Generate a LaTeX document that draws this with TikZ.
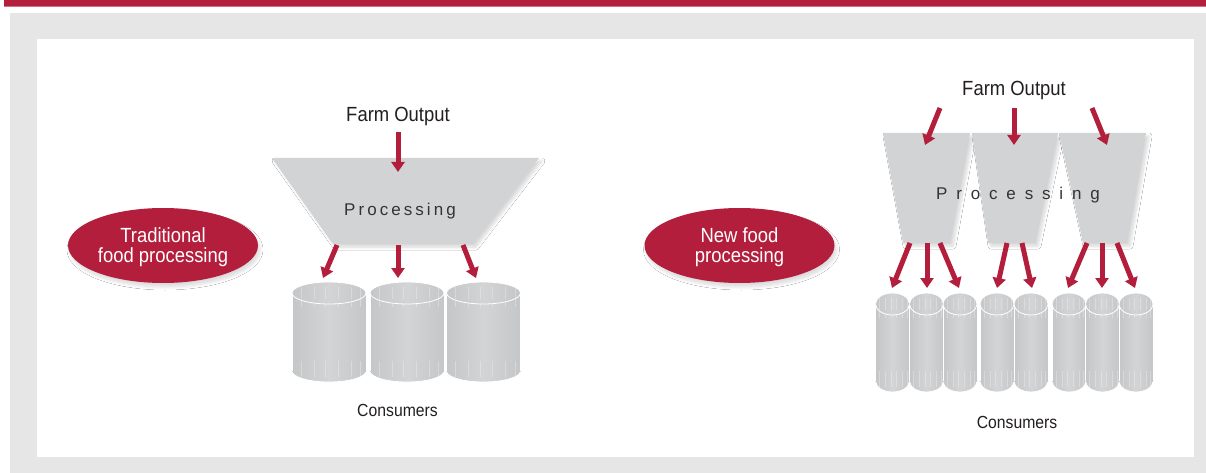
\documentclass[tikz,border=0pt]{standalone}
\usepackage{fontspec}
\setmainfont{Liberation Sans}[FakeStretch=0.9]
\newfontfamily\procfont{Liberation Sans}[LetterSpace=18]
\newfontfamily\procwide{Liberation Sans}[LetterSpace=52]
\usetikzlibrary{arrows.meta,shadows.blur,shapes.geometric}
\definecolor{crimson}{HTML}{B31E3C}
\definecolor{pinkline}{HTML}{D86C80}
\definecolor{panelgrey}{HTML}{E6E6E6}
\definecolor{trapgrey}{HTML}{D2D3D5}
\definecolor{cylA}{HTML}{C5C6C8}
\definecolor{cylB}{HTML}{D3D4D6}
\definecolor{txtdark}{HTML}{231F20}
\tikzset{
  flow/.style={draw=crimson, line width=5pt, -{Triangle[length=10pt,width=13pt]}},
  trap/.style={fill=trapgrey, blur shadow={shadow xshift=3pt, shadow yshift=-3pt, shadow opacity=16, shadow blur radius=3pt, shadow blur steps=8}},
  label/.style={font=\fontsize{20.5}{20}\selectfont, text=txtdark, anchor=base, inner sep=0pt},
  cons/.style={font=\fontsize{17.5}{18}\selectfont, text=txtdark, anchor=base, inner sep=0pt},
  proc/.style={text=black!80, anchor=base, inner sep=0pt},
  oval/.style={ellipse, fill=crimson, minimum width=190pt, minimum height=75pt, inner sep=0pt,
    blur shadow={shadow xshift=2pt, shadow yshift=-4pt, shadow opacity=14, shadow blur radius=3pt, shadow blur steps=8}},
  ovaltext/.style={text=white, align=center, font=\fontsize{20.5}{20}\selectfont, inner sep=0pt},
  cylbody/.style={left color=cylA, right color=cylA, middle color=cylB},
  streak/.style={draw=white, opacity=0.28, line width=0.6pt},
}
% cylinder: #1 centre x, #2 radius x, #3 top centre y, #4 bottom centre y
\newcommand\mycyl[4]{%
  \shade[cylbody, draw=white, line width=0.8pt] (#1,#4) ellipse ({#2} and 11);
  \shade[cylbody] (#1-#2,#3) rectangle (#1+#2,#4);
  \draw[white, line width=0.8pt] (#1-#2,#3) -- (#1-#2,#4) (#1+#2,#3) -- (#1+#2,#4);
  \foreach \f in {-0.75,-0.4,-0.1,0.25,0.6,0.85}{
    \draw[streak] (#1+\f*#2,#3-6) -- (#1+\f*#2,#3+14);
    \draw[streak] (#1+\f*#2,#4-10) -- (#1+\f*#2,#4+6);
  }
  \shade[cylbody, draw=white, line width=0.8pt] (#1,#3) ellipse ({#2} and 11);
  \foreach \f in {-0.75,-0.4,-0.1,0.25,0.6,0.85}{
    \draw[streak] (#1+\f*#2,#3-6) -- (#1+\f*#2,#3+6);
  }
}
\begin{document}
\begin{tikzpicture}[x=1pt,y=-1pt]
\useasboundingbox (0,0) rectangle (1206,473);
% frame
\fill[panelgrey] (10,13) rectangle (1206,473);
\fill[white] (37,39) rectangle (1194,457);
\fill[crimson] (4,0) rectangle (1206,6);
\draw[pinkline, line width=1pt] (4,6.5) -- (1206,6.5);

% ================= LEFT: traditional =================
\node[oval] (trad) at (163,245.5) {};
\node[ovaltext, yshift=-2pt] (tradtxt) at (trad.center) {Traditional\\food processing};

\fill[trap] (272,158) -- (539,158) -- (473,244) -- (333,244) -- cycle;
\node[proc, font=\procfont\fontsize{17}{18}\selectfont] (procL) at (400,215) {Processing};
\node[label] (farmL) at (398,122) {Farm Output};

\mycyl{329}{37}{293}{371}
\mycyl{407}{37}{293}{371}
\mycyl{483.5}{37}{293}{371}

\node[cons] (consL) at (397.5,416) {Consumers};

\coordinate (Lin0) at (398,132); \coordinate (Lin1) at (398,172);
\draw[flow] (Lin0) -- (Lin1);
\foreach \i/\xa/\xb in {1/337/323, 2/398/398, 3/463/476}{
  \coordinate (Lo\i a) at (\xa,245);
  \coordinate (Lo\i b) at (\xb,278);
  \draw[flow] (Lo\i a) -- (Lo\i b);
}

% ================= RIGHT: new =================
\node[oval] (newp) at (739.5,245.5) {};
\node[ovaltext, yshift=-2pt] (newtxt) at (newp.center) {New food\\processing};

\fill[trap] (883,133) -- (970,133) -- (950,243) -- (903,243) -- cycle;
\fill[trap] (972,133) -- (1058,133) -- (1035,243) -- (988,243) -- cycle;
\fill[trap] (1059,133) -- (1146,133) -- (1127,243) -- (1083,243) -- cycle;
\node[proc, font=\procwide\fontsize{17}{18}\selectfont] (procR) at (1018,200) {Processing};
\node[label] (farmR) at (1014,96) {Farm Output};

\foreach \c in {892.5,926.5,960,997,1031,1069,1102.5,1136}{
  \mycyl{\c}{17}{304}{381}
}

\node[cons] (consR) at (1017,428) {Consumers};

\foreach \i/\xa/\xb in {1/940/925, 2/1014/1014, 3/1092/1107}{
  \coordinate (Ri\i a) at (\xa,108);
  \coordinate (Ri\i b) at (\xb,145);
  \draw[flow] (Ri\i a) -- (Ri\i b);
}
\foreach \i/\xa/\xb in {1/910/892, 2/927/927, 3/940/959, 4/1007/997, 5/1022/1032, 6/1087/1068, 7/1102/1102, 8/1117/1135}{
  \coordinate (Ro\i a) at (\xa,243);
  \coordinate (Ro\i b) at (\xb,288);
  \draw[flow] (Ro\i a) -- (Ro\i b);
}
\end{tikzpicture}
\end{document}
